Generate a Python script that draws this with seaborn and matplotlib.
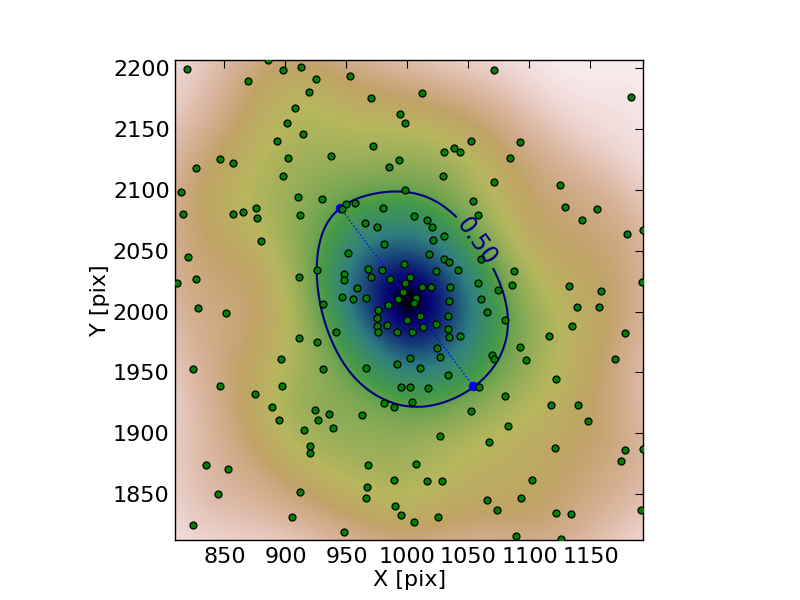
import matplotlib
matplotlib.use("Agg")
import matplotlib.pyplot as plt
import numpy as np
import seaborn as sns

# positions
x_pix = [819, 886, 898, 913, 869, 925, 919, 908, 901, 914, 893, 937, 902, 846, 857, 827, 898, 814, 910, 930,
         876, 816, 857, 865, 877, 912, 953, 970, 1012, 1071, 994, 998, 972, 1052, 1030, 1038, 1043, 993, 985, 1029,
         1071, 998, 1054, 1058, 957, 950, 946, 980, 1005, 1016, 965, 1183, 1092, 1084, 1125, 1129, 1155, 1143,
         880, 820, 827, 811, 911, 926, 931, 828, 851, 941, 911, 926, 896, 824, 931,
         975, 1020, 1030, 1021, 981, 951, 1018, 1030, 1034, 1060, 997, 968, 979, 1023, 1041, 948, 948, 970, 986,
         1002, 998, 1058, 1012, 1019, 1035, 959, 996, 946, 966, 955, 1007, 992, 1060, 1005, 1034, 984, 1065, 976,
         975, 1010, 1033, 1000, 1023, 975, 983, 1013, 1033, 976, 991, 1004, 1034, 1043, 1024, 1002, 1027, 991, 966,
         1010, 1033, 1069, 1071,
         1180, 1193, 1087, 1086, 1074, 1132, 1159, 1192, 1139, 1157, 1080, 1135, 1116, 1178, 1092, 1097, 1170, 1122,
         846, 897, 875, 889, 895, 924, 936, 927, 939, 915, 920, 920, 835, 853, 845, 912, 905, 824,
         995, 1002, 1017, 1059, 981, 989, 1004, 1052, 963, 1027, 1067, 968, 1007, 989, 967, 1016, 1028, 966, 1065,
         990, 995, 1025, 1005, 948, 1073, 1080, 1118, 1140, 1148, 1082, 1121, 1178, 1193, 1175, 1102, 1093, 1122,
         1134, 1191, 1089, 1126]
y_pix = [2199, 2206, 2198, 2201, 2189, 2191, 2180, 2167, 2155, 2146, 2140, 2128, 2126, 2125, 2122, 2118, 2111, 2098, 2094, 2092,
         2085, 2080, 2080, 2082, 2077, 2079, 2193, 2175, 2179, 2198, 2162, 2155, 2136, 2140, 2131, 2134, 2131, 2124, 2119, 2111,
         2106, 2100, 2091, 2079, 2089, 2088, 2084, 2085, 2078, 2075, 2073, 2176, 2139, 2126, 2104, 2086, 2084, 2075,
         2058, 2045, 2027, 2023, 2028, 2034, 2006, 2003, 1999, 1983, 1978, 1975, 1961, 1953, 1953,
         2069, 2069, 2062, 2059, 2055, 2048, 2047, 2043, 2041, 2043, 2039, 2035, 2034, 2033, 2034, 2031, 2026, 2028, 2027,
         2028, 2023, 2023, 2020, 2020, 2020, 2019, 2016, 2012, 2011, 2010, 2011, 2010, 2010, 2007, 2009, 2005, 2000, 2001,
         1995, 1996, 1996, 1993, 1990, 1988, 1989, 1987, 1986, 1983, 1983, 1983, 1979, 1980, 1970, 1962, 1963, 1957, 1954,
         1954, 1948, 1964, 1961,
         2064, 2067, 2033, 2022, 2018, 2021, 2017, 2024, 2004, 2004, 1993, 1988, 1980, 1982, 1971, 1960, 1961, 1945,
         1939, 1939, 1932, 1922, 1911, 1919, 1916, 1911, 1904, 1903, 1890, 1884, 1874, 1871, 1850, 1852, 1831, 1825,
         1938, 1938, 1937, 1938, 1925, 1922, 1926, 1918, 1915, 1898, 1893, 1874, 1875, 1862, 1856, 1861, 1861, 1847, 1845,
         1840, 1833, 1831, 1827, 1819, 1837, 1931, 1923, 1923, 1910, 1906, 1888, 1886, 1887, 1877, 1862, 1847, 1835,
         1834, 1837, 1816, 1813]

# ends of the major axis
axis_x = [945, 1054]
axis_y = [2085, 1938.5]

x_ticks = [850, 900, 950, 1000, 1050, 1100, 1150]
y_ticks = [1850, 1900, 1950, 2000, 2050, 2100, 2150, 2200]

x_lim = (809.6, 1193.2)
y_lim = (1812.5, 2206.4)

sns.set_style("white")

fig = plt.figure(figsize=(8, 6), dpi=100)
ax = fig.add_axes([0.219, 0.1, 0.585, 0.8])

# gaussian kde with the data covariance and Scott's factor, scaled to its peak
pts = np.array([x_pix, y_pix], dtype=float)
factor = pts.shape[1] ** (-1.0 / 6.0)
inv_cov = np.linalg.inv(np.cov(pts) * factor ** 2)

gx, gy = np.meshgrid(np.linspace(x_lim[0], x_lim[1], 300), np.linspace(y_lim[0], y_lim[1], 300))
dens = np.zeros_like(gx)
for px, py in zip(x_pix, y_pix):
    dx = gx - px
    dy = gy - py
    dens += np.exp(-0.5 * (inv_cov[0, 0] * dx ** 2 + 2 * inv_cov[0, 1] * dx * dy + inv_cov[1, 1] * dy ** 2))
dens = dens / dens.max()

ax.imshow(dens, origin="lower", extent=(*x_lim, *y_lim), cmap="gist_earth_r",
          vmin=0, vmax=1, aspect="auto", interpolation="bilinear")
contour = ax.contour(gx, gy, dens, levels=[0.5], colors="navy", linewidths=1.5)

ax.plot(axis_x, axis_y, ls=":", color="blue", lw=1, zorder=3)
sns.scatterplot(x=x_pix, y=y_pix, ax=ax, s=25, color="green", edgecolor="black",
                linewidth=0.9, zorder=4)
sns.scatterplot(x=axis_x, y=axis_y, ax=ax, s=40, color="blue", edgecolor="blue",
                linewidth=0.5, zorder=3.5)

ax.set_xlim(*x_lim)
ax.set_ylim(*y_lim)
ax.clabel(contour, fmt=lambda v: "0.50", fontsize=17, manual=[(1056, 2057)], colors="navy")

ax.set_xticks(x_ticks)
ax.set_yticks(y_ticks)
ax.tick_params(direction="in", top=True, right=True, length=6, width=0.8,
               labelsize=16, color="black", labelcolor="black", pad=5)
ax.tick_params(axis="y", pad=4)
ax.set_xlabel("X [pix]", fontsize=16, color="black", labelpad=2)
ax.set_ylabel("Y [pix]", fontsize=16, color="black", labelpad=2)
for side in ax.spines.values():
    side.set_visible(True)
    side.set_color("black")
    side.set_linewidth(1)

fig.savefig("out.png", dpi=100)
